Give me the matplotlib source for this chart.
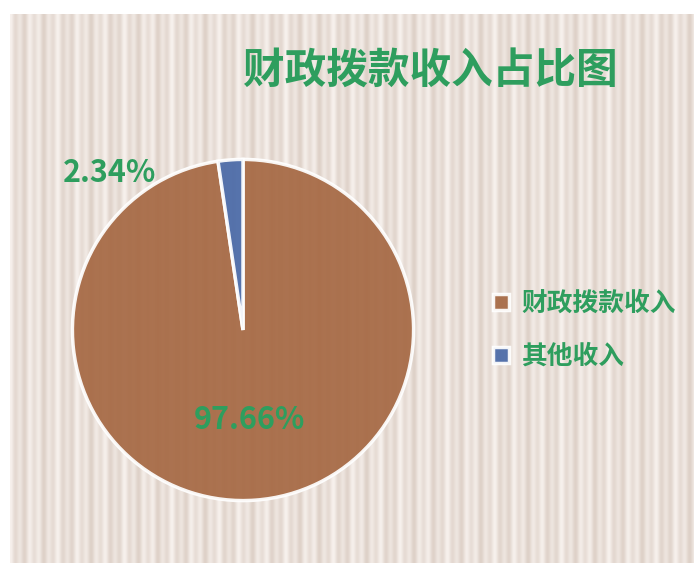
import numpy as np
import matplotlib
matplotlib.use("Agg")
import matplotlib.pyplot as plt

plt.rcParams['font.family'] = ['Noto Sans CJK SC', 'DejaVu Sans']

title = "财政拨款收入占比图"
categories = ["财政拨款收入", "其他收入"]
values = [97.66, 2.34]
colors = ["#A66944", "#4A6AA8"]
green = "#2E9E5E"

W, H = 694, 563
fig = plt.figure(figsize=(W / 100, H / 100), dpi=100)
fig.patch.set_facecolor("white")

# textured background (vertical stripes)
bg = fig.add_axes([10 / W, 0, (W - 10) / W, (H - 14) / H])
bg.set_axis_off()
nx = W - 10
x = np.arange(nx)
phase = np.cos(2 * np.pi * x / 9.5) * 0.6 + np.cos(2 * np.pi * x / 23.0) * 0.4
light = np.array([247, 241, 237]) / 255
dark = np.array([222, 209, 200]) / 255
t = (phase + 1) / 2
row = light[None, :] * t[:, None] + dark[None, :] * (1 - t[:, None])
img = np.repeat(row[None, :, :], 10, axis=0)
bg.imshow(img, aspect="auto", interpolation="bilinear", extent=[0, 1, 0, 1])

# pie
cx, cy, r = 243, 330, 174
ax = fig.add_axes([(cx - r) / W, (H - cy - r) / H, 2 * r / W, 2 * r / H])
ax.set_axis_off()
wedges, texts, autotexts = ax.pie(
    values, colors=colors, startangle=90, counterclock=False,
    autopct="%.2f%%", pctdistance=0.53,
    wedgeprops=dict(edgecolor="white", linewidth=2.5, alpha=0.93),
    textprops=dict(color=green, fontsize=22, fontweight="bold"),
    radius=1.0,
)
ax.set_xlim(-1.02, 1.02)
ax.set_ylim(-1.02, 1.02)
autotexts[1].set_position((-0.78, 0.92))

fig.text(430 / W, 1 - 71 / H, title, color=green, fontsize=30,
         fontweight="heavy", ha="center", va="center")

leg = fig.legend(wedges, categories, loc="center left",
                 bbox_to_anchor=(470 / W, 1 - 330 / H), frameon=False,
                 fontsize=18.5, handlelength=0.6, handleheight=0.6,
                 handletextpad=0.5, labelspacing=1.0)
for txt in leg.get_texts():
    txt.set_color(green)
    txt.set_fontweight("bold")

fig.savefig("out.png", dpi=100)
